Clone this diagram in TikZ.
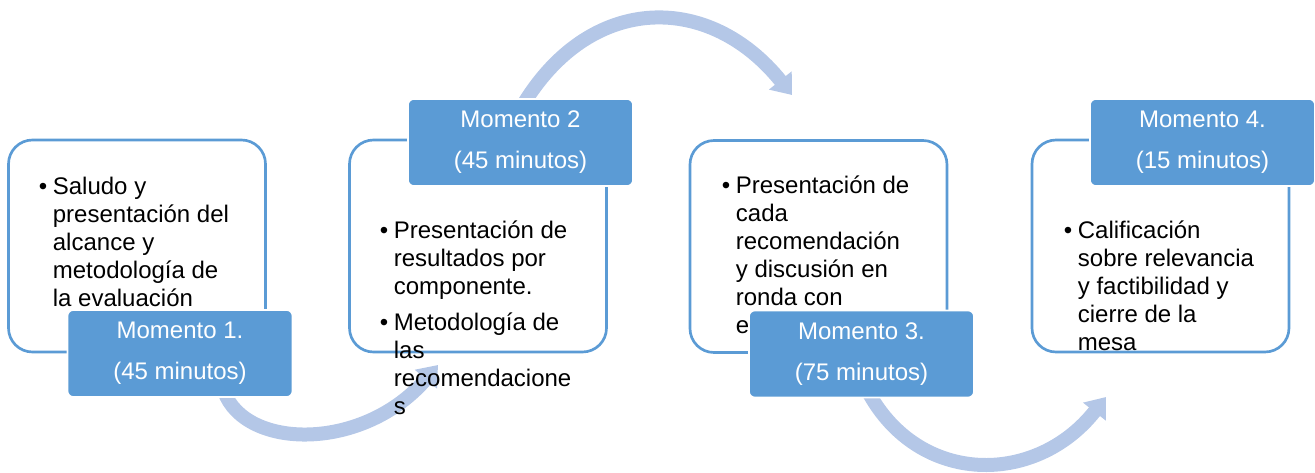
\documentclass[tikz,border=0pt]{standalone}
\usepackage{fontspec}
\setmainfont{Liberation Sans}
\usetikzlibrary{arrows.meta,backgrounds}

\definecolor{momblue}{HTML}{5B9BD5}
\definecolor{arcblue}{HTML}{B4C7E7}
\newcommand{\boxfont}{\fontsize{18}{21}\selectfont}

\begin{document}
\begin{tikzpicture}[x=0.75pt,y=-0.75pt,
  infobox/.style={draw=momblue, line width=2pt, fill=white, rounded corners=18pt,
    minimum width=192.75pt, minimum height=159pt, inner sep=0pt},
  momento/.style={fill=momblue, draw=white, line width=1.2pt, rounded corners=4.5pt,
    minimum width=168.75pt, minimum height=65.25pt, inner sep=0pt, text=white,
    align=center, font=\fontsize{18}{30.75}\selectfont},
  bullets/.style={anchor=base west, inner sep=0pt, font=\boxfont},
  flow/.style={arcblue, line width=10.5pt, -{Triangle[width=21pt,length=14pt]}}]
\useasboundingbox (0,0) rectangle (1315,472);

% white boxes
\node[infobox] (box1) at (137,246) {};
\node[infobox] (box2) at (478,246) {};
\node[infobox] (box3) at (818.5,246.5) {};
\node[infobox] (box4) at (1160.5,246) {};

% bullet texts
\node[bullets] (txt1) at (38.5,194) {\begin{tabular}[t]{@{}l@{\hspace{4.3pt}}l@{}}
  \textbullet & Saludo y\\
  & presentación del\\
  & alcance y\\
  & metodología de\\
  & la evaluación
\end{tabular}};
\node[bullets] (txt2) at (379.5,238) {\begin{tabular}[t]{@{}l@{\hspace{4.3pt}}l@{}}
  \textbullet & Presentación de\\
  & resultados por\\
  & componente.\\[6pt]
  \textbullet & Metodología de\\
  & las\\
  & recomendacione\\
  & s
\end{tabular}};
\node[bullets] (txt3) at (721.5,193) {\begin{tabular}[t]{@{}l@{\hspace{4.3pt}}l@{}}
  \textbullet & Presentación de\\
  & cada\\
  & recomendación\\
  & y discusión en\\
  & ronda con\\
  & e
\end{tabular}};
\node[bullets] (txt4) at (1063.5,238) {\begin{tabular}[t]{@{}l@{\hspace{4.3pt}}l@{}}
  \textbullet & Calificación\\
  & sobre relevancia\\
  & y factibilidad y\\
  & cierre de la\\
  & mesa
\end{tabular}};

% momentos
\node[momento] (mom1) at (180,353.5) {Momento 1.\\(45 minutos)};
\node[momento] (mom2) at (520.5,142.5) {Momento 2\\(45 minutos)};
\node[momento] (mom3) at (861.5,354) {Momento 3.\\(75 minutos)};
\node[momento] (mom4) at (1202.5,142.5) {Momento 4.\\(15 minutos)};

% curved arrows
\coordinate (end1) at (438,365);
\coordinate (end2) at (792,95);
\coordinate (end3) at (1106,397);
\begin{scope}[on background layer]
\draw[flow] ([xshift=33pt,yshift=5pt]mom1.south) .. controls (245,450) and (364,452) .. (end1);
\draw[flow] ([xshift=3.4pt,yshift=-2.5pt]mom2.north) .. controls (593,-7) and (710,-7) .. (end2);
\draw[flow] ([xshift=4.9pt,yshift=5pt]mom3.south) .. controls (919,486) and (1036,486) .. (end3);
\end{scope}
\end{tikzpicture}
\end{document}
